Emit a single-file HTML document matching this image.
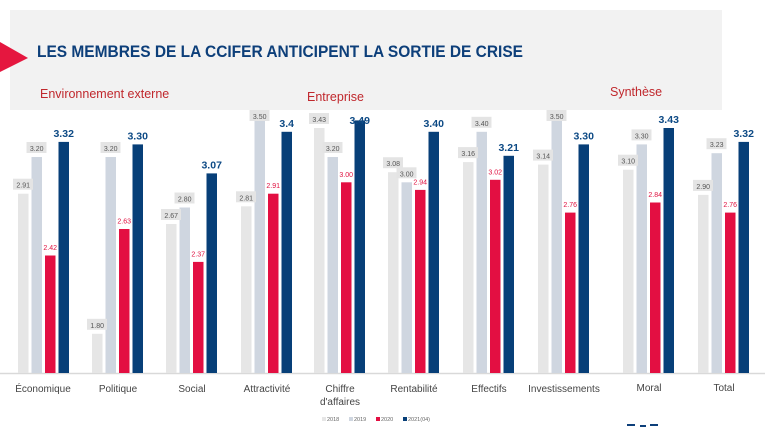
<!DOCTYPE html>
<html><head><meta charset="utf-8"><style>
html,body{margin:0;padding:0;background:#fff;width:768px;height:432px;overflow:hidden}
svg{display:block;font-family:"Liberation Sans",sans-serif}
.s{font-size:7px;fill:#555;text-anchor:middle}
.r{font-size:7px;fill:#e0103f;text-anchor:middle}
.b{font-size:10.5px;font-weight:bold;fill:#0d4a85;text-anchor:middle}
.c{font-size:10px;fill:#444;text-anchor:middle}
.lb{fill:#e4e4e4}
</style></head><body>
<svg width="768" height="432" viewBox="0 0 768 432">
<rect x="10" y="10" width="712" height="100" fill="#f2f2f2"/>
<polygon points="0,42 28,58 0,72" fill="#e5173f"/>
<text x="37" y="57" font-size="16.5" font-weight="bold" fill="#0d3f7a" textLength="486" lengthAdjust="spacingAndGlyphs">LES MEMBRES DE LA CCIFER ANTICIPENT LA SORTIE DE CRISE</text>
<text x="40" y="98" font-size="12.5" fill="#c0282d">Environnement externe</text>
<text x="307" y="101" font-size="12.5" fill="#c0282d">Entreprise</text>
<text x="610" y="96" font-size="12.5" fill="#c0282d">Synthèse</text>
<line x1="0" y1="373.5" x2="765" y2="373.5" stroke="#d9d9d9" stroke-width="1.5"/>
<g id="bars">
<rect x="18" y="193.7" width="10.5" height="179.3" fill="#e6e6e6"/>
<rect x="31.5" y="157" width="10.5" height="216" fill="#cfd6e0"/>
<rect x="45" y="255.5" width="10.5" height="117.5" fill="#e30f42"/>
<rect x="58.5" y="141.9" width="10.5" height="231.1" fill="#073f78"/>
<rect x="92" y="333.8" width="10.5" height="39.2" fill="#e6e6e6"/>
<rect x="105.5" y="157" width="10.5" height="216" fill="#cfd6e0"/>
<rect x="119" y="229" width="10.5" height="144" fill="#e30f42"/>
<rect x="132.5" y="144.4" width="10.5" height="228.6" fill="#073f78"/>
<rect x="166" y="224" width="10.5" height="149" fill="#e6e6e6"/>
<rect x="179.5" y="207.5" width="10.5" height="165.5" fill="#cfd6e0"/>
<rect x="193" y="261.9" width="10.5" height="111.1" fill="#e30f42"/>
<rect x="206.5" y="173.4" width="10.5" height="199.6" fill="#073f78"/>
<rect x="241" y="206.3" width="10.5" height="166.7" fill="#e6e6e6"/>
<rect x="254.5" y="119.1" width="10.5" height="253.9" fill="#cfd6e0"/>
<rect x="268" y="193.7" width="10.5" height="179.3" fill="#e30f42"/>
<rect x="281.5" y="131.8" width="10.5" height="241.2" fill="#073f78"/>
<rect x="314" y="128" width="10.5" height="245" fill="#e6e6e6"/>
<rect x="327.5" y="157" width="10.5" height="216" fill="#cfd6e0"/>
<rect x="341" y="182.3" width="10.5" height="190.7" fill="#e30f42"/>
<rect x="354.5" y="120.4" width="10.5" height="252.6" fill="#073f78"/>
<rect x="388" y="172.2" width="10.5" height="200.8" fill="#e6e6e6"/>
<rect x="401.5" y="182.3" width="10.5" height="190.7" fill="#cfd6e0"/>
<rect x="415" y="189.9" width="10.5" height="183.1" fill="#e30f42"/>
<rect x="428.5" y="131.8" width="10.5" height="241.2" fill="#073f78"/>
<rect x="463" y="162.1" width="10.5" height="210.9" fill="#e6e6e6"/>
<rect x="476.5" y="131.8" width="10.5" height="241.2" fill="#cfd6e0"/>
<rect x="490" y="179.8" width="10.5" height="193.2" fill="#e30f42"/>
<rect x="503.5" y="155.8" width="10.5" height="217.2" fill="#073f78"/>
<rect x="538" y="164.6" width="10.5" height="208.4" fill="#e6e6e6"/>
<rect x="551.5" y="119.1" width="10.5" height="253.9" fill="#cfd6e0"/>
<rect x="565" y="212.6" width="10.5" height="160.4" fill="#e30f42"/>
<rect x="578.5" y="144.4" width="10.5" height="228.6" fill="#073f78"/>
<rect x="623" y="169.7" width="10.5" height="203.3" fill="#e6e6e6"/>
<rect x="636.5" y="144.4" width="10.5" height="228.6" fill="#cfd6e0"/>
<rect x="650" y="202.5" width="10.5" height="170.5" fill="#e30f42"/>
<rect x="663.5" y="128" width="10.5" height="245" fill="#073f78"/>
<rect x="698" y="194.9" width="10.5" height="178.1" fill="#e6e6e6"/>
<rect x="711.5" y="153.2" width="10.5" height="219.8" fill="#cfd6e0"/>
<rect x="725" y="212.6" width="10.5" height="160.4" fill="#e30f42"/>
<rect x="738.5" y="141.9" width="10.5" height="231.1" fill="#073f78"/>
</g>
<g>
<rect class="lb" x="13" y="178.7" width="20" height="11"/><text class="s" x="23.2" y="187.7">2.91</text>
<rect class="lb" x="26.5" y="142" width="20" height="11"/><text class="s" x="36.7" y="151">3.20</text>
<text class="r" x="50.2" y="250">2.42</text>
<text class="b" x="63.7" y="137">3.32</text>

<rect class="lb" x="87" y="318.8" width="20" height="11"/><text class="s" x="97.2" y="327.8">1.80</text>
<rect class="lb" x="100.5" y="142" width="20" height="11"/><text class="s" x="110.7" y="151">3.20</text>
<text class="r" x="124.2" y="223.5">2.63</text>
<text class="b" x="137.7" y="139.5">3.30</text>

<rect class="lb" x="161" y="209" width="20" height="11"/><text class="s" x="171.2" y="218">2.67</text>
<rect class="lb" x="174.5" y="192.5" width="20" height="11"/><text class="s" x="184.7" y="201.5">2.80</text>
<text class="r" x="198.2" y="256.4">2.37</text>
<text class="b" x="211.7" y="168.5">3.07</text>

<rect class="lb" x="236" y="191.3" width="20" height="11"/><text class="s" x="246.2" y="200.3">2.81</text>
<rect class="lb" x="249.5" y="110" width="20" height="11"/><text class="s" x="259.7" y="119">3.50</text>
<text class="r" x="273.2" y="188.2">2.91</text>
<text class="b" x="286.7" y="127">3.4</text>

<rect class="lb" x="309" y="113" width="20" height="11"/><text class="s" x="319.2" y="122">3.43</text>
<rect class="lb" x="322.5" y="142" width="20" height="11"/><text class="s" x="332.7" y="151">3.20</text>
<text class="r" x="346.2" y="176.8">3.00</text>
<text class="b" x="359.7" y="124">3.49</text>

<rect class="lb" x="383" y="157.2" width="20" height="11"/><text class="s" x="393.2" y="166.2">3.08</text>
<rect class="lb" x="396.5" y="167.3" width="20" height="11"/><text class="s" x="406.7" y="176.3">3.00</text>
<text class="r" x="420.2" y="184.4">2.94</text>
<text class="b" x="433.7" y="127">3.40</text>

<rect class="lb" x="458" y="147.1" width="20" height="11"/><text class="s" x="468.2" y="156.1">3.16</text>
<rect class="lb" x="471.5" y="116.8" width="20" height="11"/><text class="s" x="481.7" y="125.8">3.40</text>
<text class="r" x="495.2" y="174.3">3.02</text>
<text class="b" x="508.7" y="151">3.21</text>

<rect class="lb" x="533" y="149.6" width="20" height="11"/><text class="s" x="543.2" y="158.6">3.14</text>
<rect class="lb" x="546.5" y="110" width="20" height="11"/><text class="s" x="556.7" y="119">3.50</text>
<text class="r" x="570.2" y="207.1">2.76</text>
<text class="b" x="583.7" y="139.5">3.30</text>

<rect class="lb" x="618" y="154.7" width="20" height="11"/><text class="s" x="628.2" y="163.7">3.10</text>
<rect class="lb" x="631.5" y="129.4" width="20" height="11"/><text class="s" x="641.7" y="138.4">3.30</text>
<text class="r" x="655.2" y="197">2.84</text>
<text class="b" x="668.7" y="123">3.43</text>

<rect class="lb" x="693" y="179.9" width="20" height="11"/><text class="s" x="703.2" y="188.9">2.90</text>
<rect class="lb" x="706.5" y="138.2" width="20" height="11"/><text class="s" x="716.7" y="147.2">3.23</text>
<text class="r" x="730.2" y="207.1">2.76</text>
<text class="b" x="743.7" y="137">3.32</text>
</g>
<g>
<text class="c" x="43" y="392">Économique</text>
<text class="c" x="118" y="392">Politique</text>
<text class="c" x="192" y="392">Social</text>
<text class="c" x="267" y="392">Attractivité</text>
<text class="c" x="340" y="392">Chiffre</text>
<text class="c" x="340" y="405">d'affaires</text>
<text class="c" x="414" y="392">Rentabilité</text>
<text class="c" x="489" y="392">Effectifs</text>
<text class="c" x="564" y="392">Investissements</text>
<text class="c" x="649" y="391">Moral</text>
<text class="c" x="724" y="391">Total</text>
</g>
<g font-size="5.5" fill="#666">
<rect x="322" y="417" width="4" height="4" fill="#e6e6e6"/><text x="327" y="421">2018</text>
<rect x="349" y="417" width="4" height="4" fill="#cfd6e0"/><text x="354" y="421">2019</text>
<rect x="376" y="417" width="4" height="4" fill="#e30f42"/><text x="381" y="421">2020</text>
<rect x="403" y="417" width="4" height="4" fill="#073f78"/><text x="408" y="421">2021(04)</text>
</g>
<rect x="627" y="424" width="8" height="2" fill="#0d3f7a"/>
<rect x="640" y="425" width="6" height="2" fill="#0d3f7a"/>
<rect x="650" y="424" width="8" height="2" fill="#0d3f7a"/>
</svg>
</body></html>
